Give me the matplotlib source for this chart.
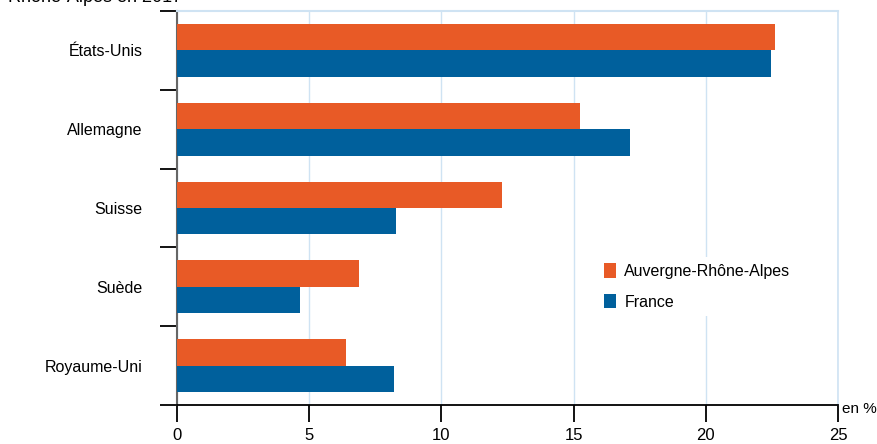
import matplotlib
matplotlib.use("Agg")
import matplotlib.pyplot as plt
import numpy as np

categories = ["États-Unis", "Allemagne", "Suisse", "Suède", "Royaume-Uni"]
ara = [22.6, 15.25, 12.3, 6.9, 6.4]
france = [22.45, 17.15, 8.3, 4.65, 8.2]
series_names = ["Auvergne-Rhône-Alpes", "France"]
xticks = [0, 5, 10, 15, 20, 25]

ORANGE = "#E85A26"
BLUE = "#00609C"
GRID = "#CFE3F3"

plt.rcParams['font.family'] = ['Liberation Sans', 'DejaVu Sans']

fig = plt.figure(figsize=(8.77, 4.44), dpi=100)
ax = fig.add_axes([177/877, 1-405/444, (838-177)/877, (405-11)/444])

n = len(categories)
y = np.arange(n)
h = 0.336
ax.barh(y - h/2, ara, height=h, color=ORANGE, label=series_names[0], zorder=3)
ax.barh(y + h/2, france, height=h, color=BLUE, label=series_names[1], zorder=3)

ax.set_xlim(0, 25)
ax.set_ylim(n - 0.5, -0.5)
ax.set_xticks(xticks)
ax.set_xticklabels([str(t) for t in xticks], fontsize=12)
ax.set_yticks(y)
ax.set_yticklabels(categories, fontsize=11.5)
ax.set_yticks(np.arange(n + 1) - 0.5, minor=True)

ax.tick_params(axis='y', which='major', length=0, pad=25)
ax.tick_params(axis='y', which='minor', length=12, width=1.3, color='black')
ax.tick_params(axis='x', which='major', length=12, width=1.3, color='black', pad=4.5)

ax.grid(axis='x', color=GRID, linewidth=1, zorder=0)
ax.set_axisbelow(True)

ax.spines['left'].set_color('#666666')
ax.spines['left'].set_linewidth(1.5)
ax.spines['bottom'].set_color('black')
ax.spines['bottom'].set_linewidth(1.3)
ax.spines['top'].set_color(GRID)
ax.spines['top'].set_linewidth(1.5)
ax.spines['right'].set_color(GRID)
ax.spines['right'].set_linewidth(1.2)

leg = ax.legend(loc='upper left', bbox_to_anchor=((590-177)/661, (405-249)/394),
                frameon=True, fontsize=11.5, handlelength=0.75, handleheight=1.0,
                handletextpad=0.5, labelspacing=0.95, borderpad=0.4, fancybox=False)
leg.get_frame().set_facecolor('white')
leg.get_frame().set_edgecolor('none')
leg.get_frame().set_alpha(1)
leg.set_zorder(5)

fig.text(842/877, 1-409/444, "en %", fontsize=11, ha='left', va='center')
fig.text(8/877, 1.0 + 3/444, "Rhône-Alpes en 2017", fontsize=13, ha='left', va='center')

fig.savefig("out.png", dpi=100)
